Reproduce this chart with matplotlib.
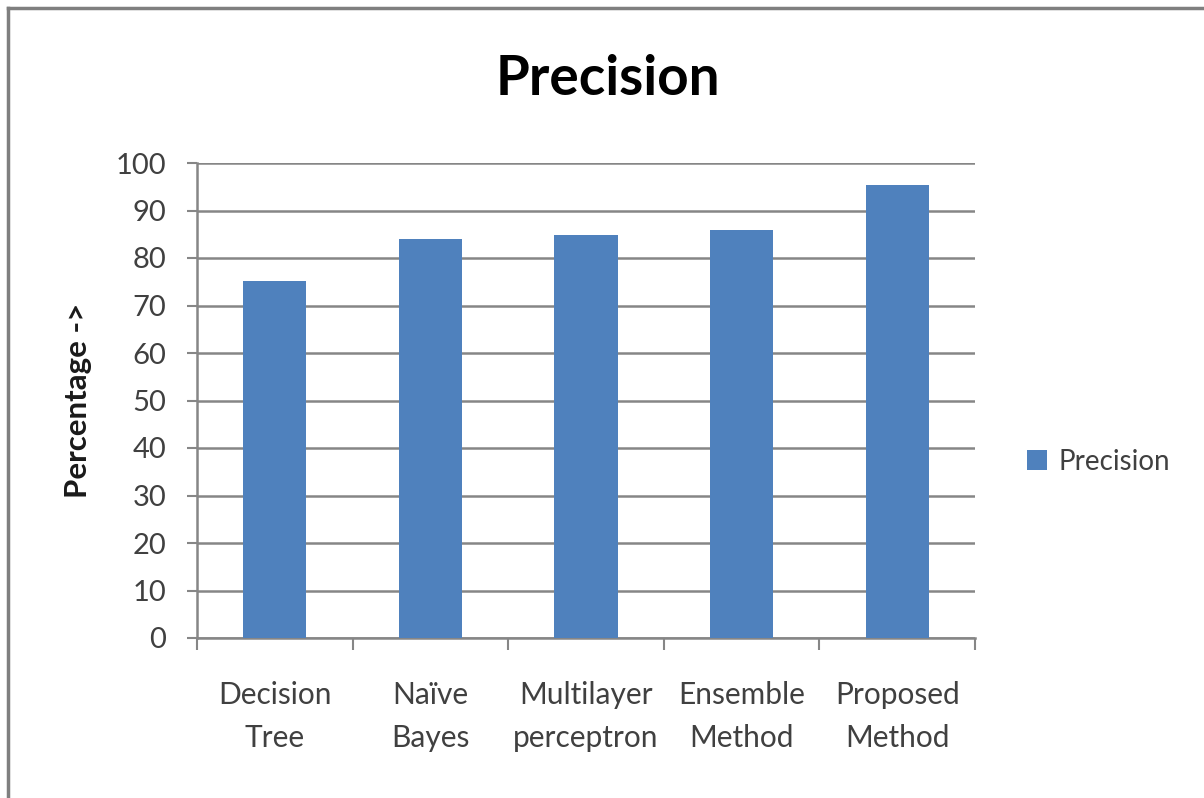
import numpy as np
import matplotlib
matplotlib.use("Agg")
import matplotlib.pyplot as plt
from matplotlib.lines import Line2D
from matplotlib.ticker import FixedLocator

plt.rcParams['font.family'] = ['Lato', 'DejaVu Sans']

# data
methods = ['Decision\nTree', 'Naïve\nBayes', 'Multilayer\nperceptron',
           'Ensemble\nMethod', 'Proposed\nMethod']
precision = [75.1, 84.1, 84.8, 85.9, 95.4]
yticks = list(range(0, 101, 10))

bar_color = '#4F81BD'
grid_color = '#868686'
text_color = '#404040'

fig = plt.figure(figsize=(12.04, 7.98), dpi=100)
ax = fig.add_axes([197/1204, 1 - 638/798, (975 - 197)/1204, (638 - 163)/798])

x = np.arange(len(methods))
ax.bar(x, precision, width=0.405, color=bar_color, label='Precision', zorder=3)

ax.set_xlim(-0.5, len(methods) - 0.5)
ax.set_ylim(0, 100)
ax.set_yticks(yticks)
ax.yaxis.grid(True, color=grid_color, linewidth=1.8, zorder=0)
ax.set_axisbelow(True)

ax.set_xticks(x)
ax.set_xticklabels(methods, linespacing=1.65)
ax.xaxis.set_minor_locator(FixedLocator(np.arange(-0.5, len(methods), 1.0)))
ax.tick_params(axis='x', which='major', length=0, pad=31, labelsize=21.5,
               labelcolor=text_color)
ax.tick_params(axis='x', which='minor', length=8.6, width=1.5, color=grid_color,
               direction='out')
ax.tick_params(axis='y', length=7.2, width=1.5, color=grid_color, pad=15,
               labelsize=21, labelcolor=text_color)

for side in ['top', 'right']:
    ax.spines[side].set_visible(False)
for side in ['left', 'bottom']:
    ax.spines[side].set_color(grid_color)
    ax.spines[side].set_linewidth(1.8)

ax.set_ylabel('Percentage ->', fontsize=22.5, fontweight='bold', color='#1a1a1a',
              labelpad=17)

fig.text(608/1204, 1 - 79/798, 'Precision', fontsize=39.5, fontweight='bold',
         ha='center', va='center', color='black')

fig.legend(loc='center left', bbox_to_anchor=(1002/1204, 1 - 462/798),
           frameon=False, fontsize=20, handlelength=0.72, handleheight=0.72,
           handletextpad=0.4, labelcolor=text_color)

# grey frame visible along the top and left edges
fig.add_artist(Line2D([8/1204, 8/1204], [0, 1 - 8/798], transform=fig.transFigure,
                      color='#7f7f7f', linewidth=2.5))
fig.add_artist(Line2D([8/1204, 1], [1 - 8/798, 1 - 8/798], transform=fig.transFigure,
                      color='#7f7f7f', linewidth=2.5))

fig.savefig('out.png', dpi=100)
